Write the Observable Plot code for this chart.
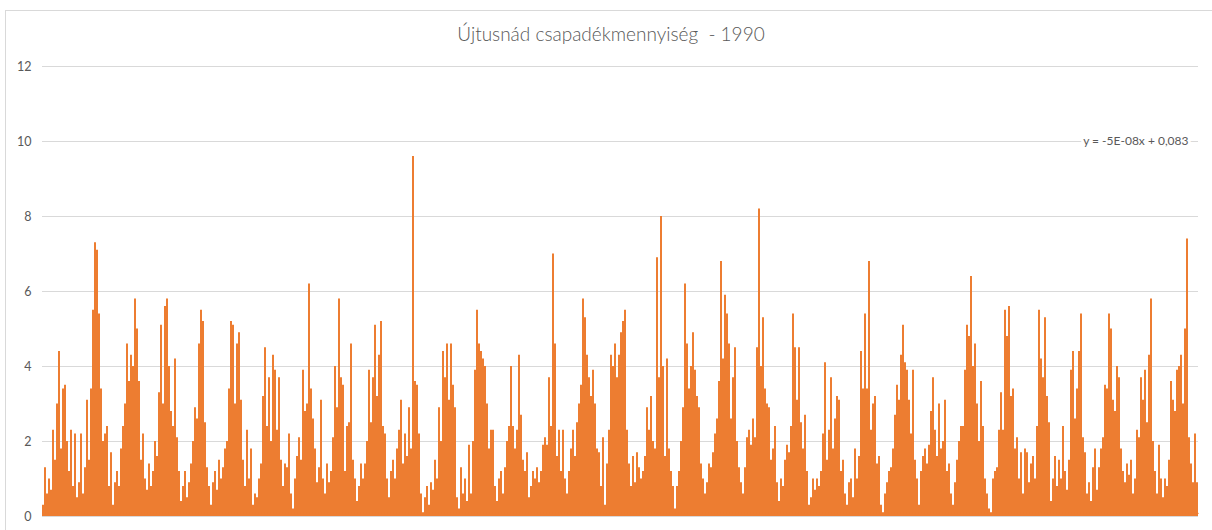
<!DOCTYPE html>
<html><head><meta charset="utf-8">
<script src="https://cdn.jsdelivr.net/npm/d3@7"></script>
<script src="https://cdn.jsdelivr.net/npm/@observablehq/plot@0.6"></script>
<style>
html,body{margin:0;padding:0;background:#fff;}
#wrap{position:relative;width:1212px;height:530px;overflow:hidden;}
#chart{position:absolute;left:0;top:0;}
#title{position:absolute;left:5px;width:1212px;top:23px;text-align:center;font-family:Lato,"Open Sans",sans-serif;font-weight:300;font-size:19px;line-height:1.2;color:#595959;white-space:pre;}
#border{position:absolute;left:5px;top:10px;width:1300px;height:600px;border-left:1px solid #d9d9d9;border-top:1px solid #d9d9d9;pointer-events:none;}
</style></head><body>
<div id="wrap"><div id="chart"></div><div id="title">Újtusnád csapadékmennyiség  - 1990</div><div id="border"></div></div>
<script>
// Precipitation values (mm), one value per ~2px column
const segA = [0.3,1.3,0.6,1.0,0.7,2.3,1.5,3.0,4.4,1.8,3.4,3.5,2.0,1.2,2.3,0.8,2.2,0.5,0.9,2.2,0.6,1.3,3.1,1.5,3.4,5.5,7.3,7.1,5.4,3.4,2.0,2.2,2.4,0.8,1.7,0.3,0.9,1.2,0.8,1.8,2.4,3.0,4.6,3.6,4.3,4.0,5.8,5.0,3.6,1.5];
const segB = [2.2,1.0,0.7,1.4,0.8,1.2,2.0,1.6,3.3,5.1,3.0,5.6,5.8,4.0,2.8,2.4,4.2,2.1,1.2,0.4,0.8,1.2,0.5,0.9,1.4,2.0,2.9,2.6,4.6,5.5,5.2,2.5,1.3,0.8,0.3,0.9,1.2,0.7,1.5,1.0,1.3,1.8,2.0,3.4,5.2,5.1,3.0,4.6,4.9,3.1];
const segC = [1.5,0.8,2.3,1.0,1.8,0.3,0.6,0.5,1.0,1.4,3.2,4.5,2.4,3.7,2.0,4.3,3.9,2.3,3.7,1.5,0.8,1.4,1.3,2.2,0.6,0.2,1.0,1.6,2.1,1.5,3.9,2.8,3.0,6.2,3.4,2.6,1.8,0.9,1.3,3.1,1.0,0.6,1.4,0.9,1.2,2.1,4.0,2.9,5.8,3.7];
const segD = [3.5,1.2,2.4,2.5,4.6,1.5,1.0,0.4,0.8,1.4,1.0,1.4,2.0,3.9,2.5,3.7,5.1,3.2,4.3,5.2,2.4,2.2,1.0,0.5,1.2,1.5,1.0,1.8,2.3,3.1,1.4,2.2,1.6,2.9,1.8,9.6,3.6,3.5,2.2,0.6,0.1,0.5,0.8,0.3,0.9,0.7,1.5,1.0,2.9,2.0];
const segE = [4.4,3.7,4.6,3.1,4.6,3.5,2.9,0.5,0.2,1.3,0.6,1.0,0.4,1.9,0.6,2.0,3.9,5.5,4.6,4.4,4.2,4.0,3.0,1.8,2.3,2.3,0.8,0.4,1.0,1.2,0.6,1.3,2.0,2.4,4.0,2.4,1.8,2.3,4.3,2.7,1.5,1.2,1.7,0.5,0.8,1.2,1.0,1.3,0.9,1.2];
const segF = [1.9,2.1,1.9,3.7,2.4,7.0,4.6,1.6,2.3,1.2,2.3,1.0,0.6,1.2,1.8,2.3,1.6,2.5,3.0,3.5,5.8,5.3,4.3,3.7,3.2,3.9,3.0,1.8,1.7,0.8,2.1,0.3,1.4,2.3,4.3,4.0,4.6,3.7,4.3,4.9,5.2,5.5,2.3,1.4,0.8,1.6,0.9,1.7,1.3,1.0];
const segG = [1.2,1.6,2.9,2.3,3.2,2.0,1.8,6.9,3.7,8.0,4.0,1.6,4.2,1.8,1.2,0.8,0.2,0.8,1.2,2.0,2.9,6.2,4.6,3.4,4.0,4.9,3.9,3.2,2.9,1.4,1.0,0.6,0.9,1.4,1.3,1.7,2.2,2.6,3.6,6.8,4.2,5.9,5.4,4.6,2.6,3.7,4.5,2.0,1.3,0.9];
const segH = [0.6,1.3,2.1,2.3,1.9,2.6,2.1,4.5,8.2,4.0,5.3,3.4,3.0,2.9,1.5,1.8,2.4,0.9,0.4,1.0,0.8,1.5,1.9,1.7,2.4,5.4,4.5,3.1,4.5,2.5,1.8,2.7,1.2,0.3,0.5,1.0,0.7,1.0,0.8,1.2,2.2,4.1,1.5,2.3,3.7,1.8,2.6,3.2,3.1,1.2];
const segI = [1.5,0.6,0.3,0.9,1.0,0.5,1.8,1.0,1.6,4.4,3.4,5.4,3.4,6.8,2.3,3.0,3.2,1.4,1.6,0.3,0.1,0.6,0.9,1.2,1.3,1.8,2.7,3.5,3.1,4.3,5.1,4.1,3.9,3.1,2.2,3.9,1.5,1.0,0.3,1.2,1.6,1.8,1.4,1.9,2.8,3.7,2.3,1.6,3.0,1.8];
const segJ = [2.0,3.1,1.2,1.4,0.6,0.3,0.9,1.5,2.0,2.4,2.4,3.9,5.1,4.8,6.4,4.0,4.6,3.0,2.0,3.6,2.4,1.0,0.6,0.2,0.1,1.0,1.2,1.3,2.3,3.3,2.3,5.5,4.8,5.6,3.2,3.4,1.8,2.1,1.0,1.7,0.6,1.8,1.7,0.9,1.4,1.6,1.0,2.4,5.5,4.2];
const segK = [3.7,5.3,3.2,2.5,0.4,1.0,1.6,0.8,1.5,1.0,2.4,1.2,0.7,1.5,3.9,4.4,2.6,3.4,4.4,5.4,2.1,1.7,0.6,0.9,0.4,1.3,1.8,0.7,1.3,1.8,2.1,3.5,3.4,5.4,5.0,3.1,2.8,4.0,3.7,1.8,1.2,0.9,1.4,1.1,1.5,0.6,1.0,2.3,2.1,3.7];
const segL = [3.1,3.9,2.5,4.3,5.8,2.0,1.2,0.6,1.9,1.0,0.5,1.0,0.8,1.5,3.6,3.1,2.8,3.9,4.0,4.3,3.0,5.0,7.4,2.1,1.4,0.9,2.2,0.9];

const yTicks = [0, 2, 4, 6, 8, 10, 12];
const trendSlope = -5e-8;
const trendIntercept = 0.083;
const trendLabel = "y = -5E-08x + 0,083";

const values = [...segA, ...segB, ...segC, ...segD, ...segE, ...segF, ...segG, ...segH, ...segI, ...segJ, ...segK, ...segL];
const N = values.length;
const data = values.map((v, i) => ({i, v}));
const trendPts = [0, N].map(x => ({x, y: trendIntercept + trendSlope * x}));

const chart = Plot.plot({
  width: 1212, height: 530,
  marginLeft: 42, marginRight: 14, marginTop: 66, marginBottom: 14,
  x: {domain: [0, N], axis: null},
  y: {domain: [0, 12], axis: null},
  style: {fontFamily: "Lato, 'Open Sans', sans-serif", fontSize: "12px", color: "#595959", background: "transparent"},
  marks: [
    Plot.gridY(yTicks, {stroke: "#d9d9d9", strokeOpacity: 1, strokeWidth: 1}),
    Plot.axisY(yTicks, {tickSize: 0, tickPadding: 11, fontSize: 12.5, color: "#595959"}),
    Plot.rect(data, {x1: "i", x2: d => d.i + 1, y1: 0, y2: "v", fill: "#ED7D31", inset: 0}),
    Plot.line(trendPts, {x: "x", y: "y", stroke: "#ED7D31", strokeWidth: 0.75, strokeDasharray: "1,2"}),
    Plot.text([trendLabel], {x: N, y: 10, text: d => d, textAnchor: "end", dx: -10, fill: "#595959", stroke: "white", strokeWidth: 6, fontSize: 12})
  ]
});
document.getElementById("chart").appendChild(chart);
</script>
</body></html>
